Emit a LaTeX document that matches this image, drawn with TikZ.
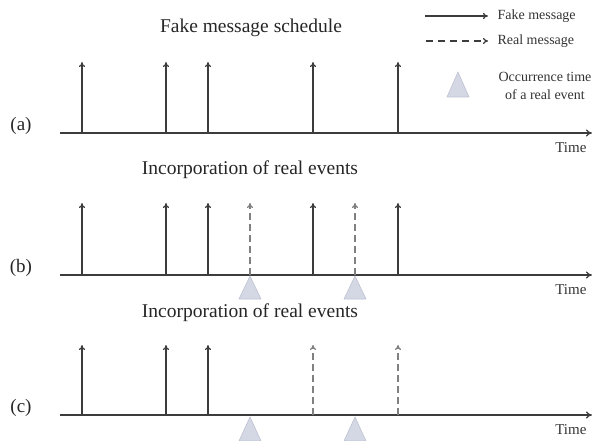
\documentclass[tikz,border=0pt]{standalone}
\usepackage{fontspec}
\setmainfont{Liberation Serif}
\usetikzlibrary{arrows.meta}
\definecolor{tri}{RGB}{212,215,228}
\definecolor{triedge}{RGB}{190,194,210}
\definecolor{lineg}{RGB}{60,60,60}
\tikzset{
  axis/.style={draw=lineg, line width=1.1pt, -{To[length=6pt,width=7pt]}},
  fake/.style={draw=lineg, line width=1.1pt, -{To[length=5pt,width=6pt]}},
  real/.style={draw=gray, line width=1.2pt, dash pattern=on 7pt off 4pt, -{To[length=5pt,width=6pt]}},
  evt/.style={fill=tri, draw=triedge, line width=0.6pt},
  title/.style={font=\fontsize{19.5}{22}\selectfont, text=black!85},
  lab/.style={font=\fontsize{19}{21}\selectfont, text=black!85},
  small/.style={font=\fontsize{14}{18}\selectfont, text=black!80, align=center},
  timelab/.style={font=\fontsize{15}{17}\selectfont, text=black!80},
}
\begin{document}
\begin{tikzpicture}[x=1pt,y=-1pt]
\useasboundingbox (0,0) rectangle (603,441);
% Titles
\node[title] (ta) at (251,28) {Fake message schedule};
\node[title] (tb) at (250,170) {Incorporation of real events};
\node[title] (tc) at (250,313) {Incorporation of real events};
% Legend
\coordinate (l1a) at (425,16); \coordinate (l1b) at (488,16);
\draw[fake] (l1a) -- (l1b);
\node[small, anchor=west] (lf) at (494,16) {Fake message};
\coordinate (l2a) at (426,41); \coordinate (l2b) at (488,41);
\draw[real, draw=lineg, dash pattern=on 7pt off 5pt] (l2a) -- (l2b);
\node[small, anchor=west] (lr) at (494,41) {Real message};
\draw[evt] (447,97) -- (458,72) -- (469,97) -- cycle;
\node[small] (lo) at (545,86) {Occurrence time\\of a real event};
% Row labels
\node[lab] (la) at (21,126) {(a)};
\node[lab] (lb) at (21,268) {(b)};
\node[lab] (lc) at (21,408) {(c)};
% Axes
\foreach \r/\y in {a/133,b/275,c/415}{
  \coordinate (s\r) at (60,\y); \coordinate (e\r) at (592,\y);
  \draw[axis] (s\r) -- (e\r);
  \node[timelab, anchor=north east] (time\r) at (590,\y+6) {Time};
}
% Row a
\foreach \x in {82,166,208,313,398}{
  \coordinate (a0\x) at (\x,133); \coordinate (a1\x) at (\x,62);
  \draw[fake] (a0\x) -- (a1\x);
}
% Row b
\foreach \x in {250,355}{
  \draw[evt] (\x-11,299) -- (\x,276) -- (\x+11,299) -- cycle;
}
\foreach \x in {82,166,208,313,398}{
  \coordinate (b0\x) at (\x,275); \coordinate (b1\x) at (\x,203);
  \draw[fake] (b0\x) -- (b1\x);
}
\foreach \x in {250,355}{
  \coordinate (b0\x) at (\x,275); \coordinate (b1\x) at (\x,203);
  \draw[real] (b0\x) -- (b1\x);
}
% Row c
\foreach \x in {250,355}{
  \draw[evt] (\x-11,441) -- (\x,417) -- (\x+11,441) -- cycle;
}
\foreach \x in {82,166,208}{
  \coordinate (c0\x) at (\x,415); \coordinate (c1\x) at (\x,345);
  \draw[fake] (c0\x) -- (c1\x);
}
\foreach \x in {313,398}{
  \coordinate (c0\x) at (\x,415); \coordinate (c1\x) at (\x,345);
  \draw[real] (c0\x) -- (c1\x);
}
\end{tikzpicture}
\end{document}
